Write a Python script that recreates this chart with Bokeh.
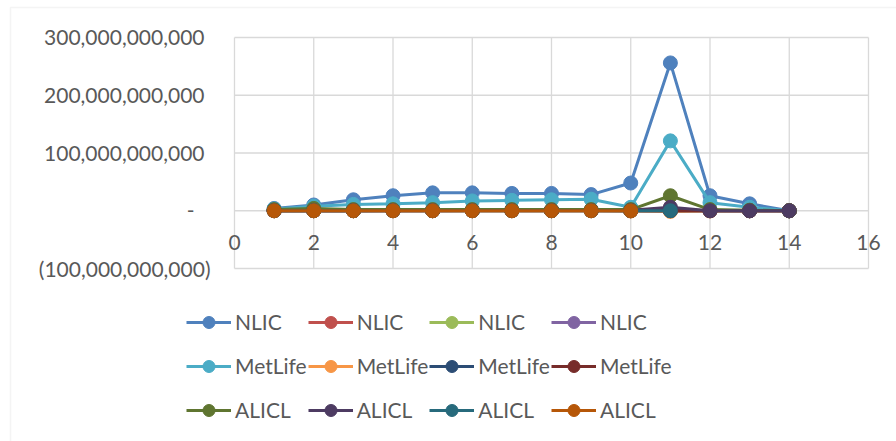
import numpy as np
from bokeh.plotting import figure
from bokeh.models import Range1d, Legend, LegendItem, Label, BoxAnnotation
from bokeh.embed import file_html
from bokeh.resources import INLINE

nan = np.nan
BILLION = 1e9

# Period index on the horizontal axis
periods = [1, 2, 3, 4, 5, 6, 7, 8, 9, 10, 11, 12, 13, 14]

# Series values, in billions
nlic_a = [4, 10, 19, 26, 31, 31, 30, 30, 28, 48, 256, 26, 12, 0]
nlic_b = [0.3, 0.4, 0.4, 0.5, 0.5, 0.6, 0.6, 0.6, 0.5, 0.7, 1.0, 0.3, 0.2, 0]
nlic_c = [0.2, 0.3, 0.3, 0.3, 0.4, 0.4, 0.4, 0.4, 0.4, 0.5, 0.8, 0.2, 0.1, 0]
nlic_d = [0.1, 0.2, 0.2, 0.2, 0.2, 0.3, 0.3, 0.3, 0.3, 0.3, 0.6, 0.1, 0.1, 0]
metlife_a = [3, 8, 11, 12, 14, 17, 18, 19, 20, 6, 121, 14, 6, 0]
metlife_b = [0.1, 0.1, 0.1, 0.1, 0.1, 0.1, 0.1, 0.1, 0.1, -0.5, -1.2, -0.4, 0, 0]
metlife_c = [0.2, 0.2, 0.2, 0.3, 0.3, 0.3, 0.3, 0.3, 0.3, 0.2, 0.4, 0.1, 0, 0]
metlife_d = [0.1, 0.1, 0.1, 0.1, 0.1, 0.2, 0.2, 0.2, 0.2, 0.1, 0.2, 0.1, 0, 0]
alicl_a = [2, 4, 2, 2, 2, 2, 2, 2, 2, 2, 26, 2, 1, 0]
alicl_b = [0.5, 0.6, 0.5, 0.5, 0.5, 0.6, 0.6, 0.6, 0.6, 0.7, 6, 0, 0, 0]
alicl_c = [0.1, 0.1, 0.1, 0.1, 0.1, 0.1, 0.1, 0.1, 0.1, 0.1, 0, nan, nan, nan]
alicl_d = [0, 0, 0, 0, 0, 0, 0, 0, 0, 0, nan, nan, nan, nan]

series_names = ["NLIC", "NLIC", "NLIC", "NLIC",
                "MetLife", "MetLife", "MetLife", "MetLife",
                "ALICL", "ALICL", "ALICL", "ALICL"]
series_values = [nlic_a, nlic_b, nlic_c, nlic_d,
                 metlife_a, metlife_b, metlife_c, metlife_d,
                 alicl_a, alicl_b, alicl_c, alicl_d]
series_colors = ["#4F81BD", "#C0504D", "#9BBB59", "#8064A2",
                 "#4BACC6", "#F79646", "#2C4D75", "#772C2A",
                 "#5F7530", "#4D3B62", "#276A7C", "#B65708"]

x_ticks = [0, 2, 4, 6, 8, 10, 12, 14, 16]
x_tick_labels = ["0", "2", "4", "6", "8", "10", "12", "14", "16"]
y_ticks = [-100e9, 0, 100e9, 200e9, 300e9]
y_tick_labels = ["(100,000,000,000)", "-", "100,000,000,000",
                 "200,000,000,000", "300,000,000,000"]
y_label_offsets = [-24, -40, -30, -30, -30]

FONT = "Lato"
TEXT_COLOR = "#595959"
GRID_COLOR = "#D9D9D9"

# Canvas and plot-area geometry (pixels)
W, H = 896, 441
PLOT_LEFT, PLOT_RIGHT, PLOT_TOP, PLOT_BOTTOM = 234, 868, 37, 268
X_MIN, X_MAX = x_ticks[0], x_ticks[-1]
Y_MIN, Y_MAX = y_ticks[0], y_ticks[-1]

# Stretch the data ranges so the plot area lands where it should while
# tick labels and the legend stay inside the drawable frame.
px_x = (PLOT_RIGHT - PLOT_LEFT) / (X_MAX - X_MIN)
px_y = (PLOT_BOTTOM - PLOT_TOP) / (Y_MAX - Y_MIN)
x_range = Range1d(X_MIN - PLOT_LEFT / px_x, X_MAX + (W - PLOT_RIGHT) / px_x)
y_range = Range1d(Y_MIN - (H - PLOT_BOTTOM) / px_y, Y_MAX + PLOT_TOP / px_y)

p = figure(width=W, height=H, x_range=x_range, y_range=y_range,
           output_backend="svg", toolbar_location=None,
           x_axis_location=None, y_axis_location=None,
           min_border=0, outline_line_color=None,
           background_fill_color="white", border_fill_color="white")
p.grid.visible = False

# Plot-area grid
p.segment(x0=x_ticks, y0=[Y_MIN] * len(x_ticks),
          x1=x_ticks, y1=[Y_MAX] * len(x_ticks),
          line_color=GRID_COLOR, line_width=1.3)
p.segment(x0=[X_MIN] * len(y_ticks), y0=y_ticks,
          x1=[X_MAX] * len(y_ticks), y1=y_ticks,
          line_color=GRID_COLOR, line_width=1.3)

# Vertical-axis labels (accounting style)
for val, txt, off in zip(y_ticks, y_tick_labels, y_label_offsets):
    p.add_layout(Label(x=X_MIN, y=val, text=txt, x_offset=off,
                       text_align="right", text_baseline="middle",
                       text_font=FONT, text_font_size="21px",
                       text_color=TEXT_COLOR))

# Horizontal-axis labels, hung below the zero line
for val, txt in zip(x_ticks, x_tick_labels):
    p.add_layout(Label(x=val, y=0, text=txt, y_offset=-32,
                       text_align="center", text_baseline="middle",
                       text_font=FONT, text_font_size="21px",
                       text_color=TEXT_COLOR))

items = []
x_arr = np.array(periods, dtype=float)
for name, vals, color in zip(series_names, series_values, series_colors):
    y_arr = np.array(vals, dtype=float) * BILLION
    r_line = p.line(x_arr, y_arr, line_color=color, line_width=3)
    r_pts = p.scatter(x_arr, y_arr, marker="circle", size=14,
                      fill_color=color, line_color=color)
    items.append(LegendItem(label=name, renderers=[r_line, r_pts]))

legend = Legend(items=items, location=(186, 10),
                orientation="horizontal", ncols=4,
                glyph_width=45, glyph_height=30,
                label_height=43, label_width=60, label_standoff=4,
                spacing=1, padding=0, margin=0,
                border_line_color=None, background_fill_alpha=0,
                label_text_font=FONT, label_text_font_size="21px",
                label_text_color=TEXT_COLOR)
p.add_layout(legend)

# Chart area border
p.add_layout(BoxAnnotation(left=10, right=W + 20, top=7, bottom=H + 20,
                           left_units="canvas", right_units="canvas",
                           top_units="canvas", bottom_units="canvas",
                           fill_alpha=0, line_color=GRID_COLOR,
                           line_width=1.5))

open("out.html", "w").write(file_html(p, INLINE))
